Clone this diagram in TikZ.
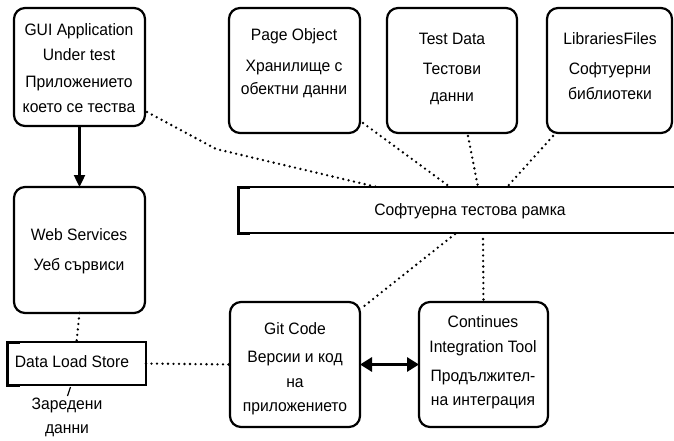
\documentclass[tikz,border=0pt]{standalone}
\usepackage{fontspec}
\setmainfont{Liberation Sans}[FakeStretch=0.95]
\usetikzlibrary{arrows.meta}
\begin{document}
\begin{tikzpicture}[x=1pt,y=-1pt,
  box/.style={draw, line width=2.2pt, rounded corners=11pt, inner sep=0pt, outer sep=0pt},
  plain/.style={draw, line width=1.3pt, inner sep=0pt, outer sep=0pt},
  txt/.style={font=\fontsize{16.5}{19}\selectfont, inner sep=0pt, text height=12pt, text depth=3.5pt},
  dotline/.style={line width=2.6pt, dash pattern=on 0pt off 5.5pt, line cap=round},
  bracket/.style={line width=3pt},
  solidarrow/.style={line width=2.4pt, -{Triangle[length=12pt,width=11pt]}},
  dblarrow/.style={line width=3pt, {Triangle[length=12pt,width=14pt]}-{Triangle[length=12pt,width=14pt]}}]
\useasboundingbox (0,0) rectangle (674,441);

% boxes
\node[box, minimum width=131, minimum height=118] (gui) at (79.5,67) {};
\node[box, minimum width=131, minimum height=126] (ws) at (79.5,250) {};
\node[box, minimum width=131, minimum height=125] (po) at (294.5,70.5) {};
\node[box, minimum width=130, minimum height=125] (td) at (452,70.5) {};
\node[box, minimum width=125, minimum height=125] (lf) at (609.5,70.5) {};
\node[box, minimum width=130, minimum height=125] (git) at (295,364.5) {};
\node[box, minimum width=129, minimum height=125] (ci) at (483.5,364.5) {};

% data load store
\node[plain, minimum width=139, minimum height=43] (dls) at (76.5,363.5) {};
\draw[bracket] ([xshift=13pt]dls.north west) -- (dls.north west) -- (dls.south west) -- ([xshift=13pt]dls.south west);

% framework bar
\coordinate (fwnw) at (238,187);
\coordinate (fwsw) at (238,233);
\coordinate (fwne) at (676,187);
\coordinate (fwse) at (676,233);
\node[inner sep=0pt, outer sep=0pt, minimum width=438, minimum height=46] (fw) at (457,210) {};
\draw[line width=1.3pt] (fwnw) -- (fwne);
\draw[line width=1.3pt] (fwsw) -- (fwse);
\draw[bracket] ([xshift=12pt]fwnw) -- (fwnw) -- (fwsw) -- ([xshift=12pt]fwsw);

% texts
\node[txt] (t1) at (79,31) {GUI Application};
\node[txt] (t2) at (79,56) {Under test};
\node[txt] (t3) at (79,83) {Приложението};
\node[txt] (t4) at (79,108) {което се тества};

\node[txt] (t5) at (79,236) {Web Services};
\node[txt] (t6) at (79,266) {Уеб сървиси};

\node[txt] (t7) at (294,36) {Page Object};
\node[txt] (t8) at (294,67) {Хранилище с};
\node[txt] (t9) at (294,90) {обектни данни};

\node[txt] (t10) at (452,40) {Test Data};
\node[txt] (t11) at (452,70) {Тестови};
\node[txt] (t12) at (452,97) {данни};

\node[txt] (t13) at (610,40) {LibrariesFiles};
\node[txt] (t14) at (610,70) {Софтуерни};
\node[txt] (t15) at (610,95) {библиотеки};

\node[txt] (t16) at (470,211) {Софтуерна тестова рамка};

\node[txt] (t17) at (72,363) {Data Load Store};
\node[txt] (t18) at (67,405) {Заредени};
\node[txt] (t19) at (67,429) {данни};

\node[txt] (t20) at (295,330) {Git Code};
\node[txt] (t21) at (295,358) {Версии и код};
\node[txt] (t22) at (295,383) {на};
\node[txt] (t23) at (295,407) {приложението};

\node[txt] (t24) at (483,323) {Continues};
\node[txt] (t25) at (483,348) {Integration Tool};
\node[txt] (t26) at (483,377) {Продължител-};
\node[txt] (t27) at (483,401) {на интеграция};

% connectors
\draw[solidarrow] (gui.south) -- (ws.north);
\draw[dotline] (ws.south) -- (dls.north);
\draw[dotline] (dls.east) -- (git.west);
\draw[line width=1.2pt] ([xshift=-6pt,yshift=-2pt]dls.south) -- ([xshift=-9pt,yshift=-11pt]dls.south);
\draw[dblarrow] (git.east) -- (ci.west);

\coordinate (bend) at (216,149);
\draw[dotline] ([xshift=2pt,yshift=14pt]gui.south east) -- (bend) -- (377,187);
\draw[dotline] ([xshift=3pt,yshift=10pt]po.south east) -- (450,187);
\draw[dotline] ([xshift=16pt,yshift=-3pt]td.south) -- (478,187);
\draw[dotline] ([xshift=6pt,yshift=-3pt]lf.south west) -- (507,187);
\draw[dotline] (455,234) -- ([xshift=3pt,yshift=-5pt]git.north east);
\draw[dotline] (483,239) -- (ci.north);
\end{tikzpicture}
\end{document}
